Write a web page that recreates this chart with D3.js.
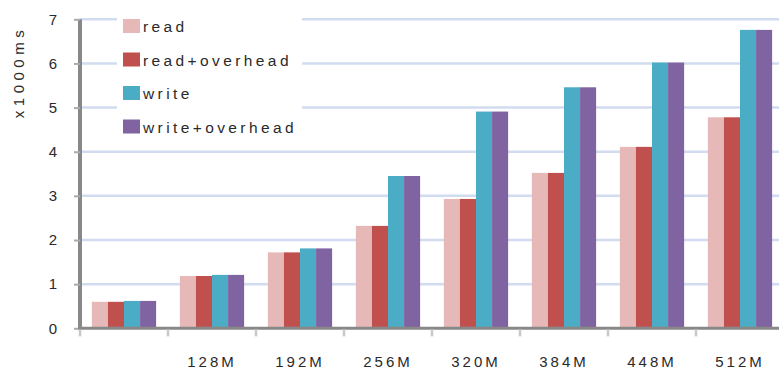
<!DOCTYPE html>
<html><head><meta charset="utf-8">
<script src="https://cdn.jsdelivr.net/npm/d3@7"></script>
<style>body{margin:0;background:#fff;}svg{display:block;font-family:"Liberation Sans",Arial,sans-serif;}</style>
</head><body>
<svg id="c" width="779" height="372"></svg>
<script>
const categories = ["", "128M", "192M", "256M", "320M", "384M", "448M", "512M"];
const seriesNames = ["read", "read+overhead", "write", "write+overhead"];
const read = [0.60, 1.185, 1.72, 2.32, 2.93, 3.52, 4.11, 4.78];
const readOverhead = [0.60, 1.185, 1.72, 2.32, 2.93, 3.52, 4.11, 4.78];
const write = [0.62, 1.21, 1.81, 3.45, 4.91, 5.46, 6.02, 6.76];
const writeOverhead = [0.62, 1.21, 1.81, 3.45, 4.91, 5.46, 6.02, 6.76];
const yTicks = [0, 1, 2, 3, 4, 5, 6, 7];
const colors = ["#e6b9b8", "#c0504d", "#4bacc6", "#8064a2"];
const yLabel = "x1000ms";

const series = [read, readOverhead, write, writeOverhead];
const svg = d3.select("#c");
const x0 = d3.scaleBand().domain(d3.range(categories.length)).range([80, 784]).paddingInner(0.27).paddingOuter(0.135);
const x1 = d3.scaleBand().domain(d3.range(series.length)).range([0, x0.bandwidth()]);
const y = d3.scaleLinear().domain([0, 7]).range([328.3, 19.3]);
const step = x0.step();

// gridlines
svg.append("g").selectAll("line").data(yTicks.filter(d => d > 0)).join("line")
  .attr("x1", 80).attr("x2", 779).attr("y1", d => y(d)).attr("y2", d => y(d))
  .attr("stroke", "#d2dcf1").attr("stroke-width", 2.5);

// legend background
svg.append("rect").attr("x", 117).attr("y", 10).attr("width", 185).attr("height", 130).attr("fill", "#fff");

// bars
const g = svg.append("g");
categories.forEach((c, i) => {
  series.forEach((s, j) => {
    g.append("rect")
      .attr("x", x0(i) + x1(j)).attr("width", x1.bandwidth())
      .attr("y", y(s[i])).attr("height", y(0) - y(s[i]))
      .attr("fill", colors[j]);
  });
});

// y axis
const yAxis = svg.append("g").attr("transform", "translate(80,0)")
  .call(d3.axisLeft(y).tickValues(yTicks).tickSize(6).tickPadding(18).tickFormat(d3.format("d")));
yAxis.select(".domain").attr("stroke", "#888").attr("stroke-width", 4);
yAxis.selectAll(".tick line").attr("stroke", "#aaa").attr("stroke-width", 2);
yAxis.selectAll(".tick text").attr("font-size", 15).attr("fill", "#2a2a2a").attr("text-anchor", "middle").attr("x", -27);
yAxis.select(".domain").attr("d", `M0,${y(7)}V${y(0)+1.5}`);

// x axis
const xAxisScale = d3.scaleLinear().domain([0, categories.length]).range([80, 80 + step * categories.length]);
const xAxis = svg.append("g").attr("transform", `translate(0,${y(0)})`);
xAxis.append("line").attr("x1", 78).attr("x2", 779).attr("y1", 0).attr("y2", 0).attr("stroke", "#888").attr("stroke-width", 3);
xAxis.selectAll("line.tk").data(d3.range(categories.length)).join("line").attr("class", "tk")
  .attr("x1", d => xAxisScale(d)).attr("x2", d => xAxisScale(d)).attr("y1", 1).attr("y2", 8)
  .attr("stroke", "#c8c8c8").attr("stroke-width", 2.5);
xAxis.selectAll("text").data(categories).join("text")
  .attr("x", (d, i) => x0(i) + x0.bandwidth() / 2).attr("y", 39)
  .attr("text-anchor", "middle").attr("font-size", 15).attr("fill", "#2a2a2a")
  .attr("letter-spacing", 3).text(d => d);

// y label
svg.append("text").attr("transform", "translate(24,72) rotate(-90)")
  .attr("text-anchor", "middle").attr("font-size", 15).attr("fill", "#2a2a2a").attr("letter-spacing", 4.5).text(yLabel);

// legend
const leg = svg.append("g");
seriesNames.forEach((n, i) => {
  const cy = 26 + i * 33.5;
  leg.append("rect").attr("x", 123).attr("y", cy - 7).attr("width", 17).attr("height", 14).attr("fill", colors[i]);
  leg.append("text").attr("x", 143).attr("y", cy + 6).attr("font-size", 15.5).attr("fill", "#2a2a2a")
    .attr("letter-spacing", 3.4).text(n);
});
</script>
</body></html>
